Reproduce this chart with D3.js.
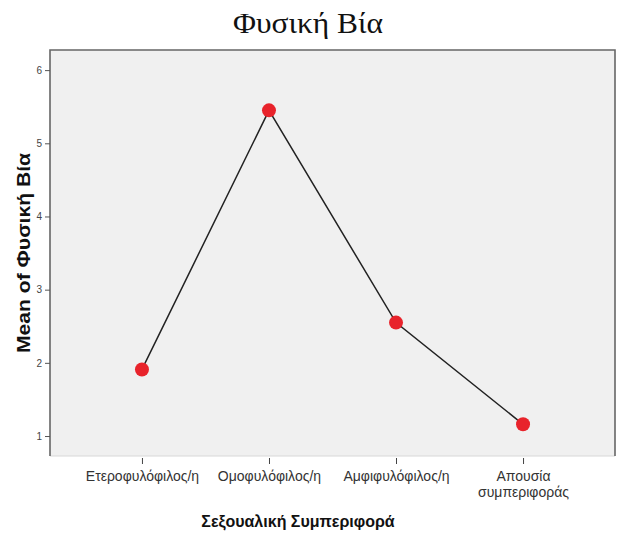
<!DOCTYPE html>
<html>
<head>
<meta charset="utf-8">
<script src="https://cdn.jsdelivr.net/npm/d3@7"></script>
<style>
  body { margin: 0; background: #fff; }
  svg text { font-family: "Liberation Sans", Arial, sans-serif; }
</style>
</head>
<body>
<svg id="chart" width="625" height="533"></svg>
<script>
/* Means plot — Φυσική Βία by sexual behaviour */

const categories = ["Ετεροφυλόφιλος/η", "Ομοφυλόφιλος/η", "Αμφιφυλόφιλος/η", "Απουσία συμπεριφοράς"];
const catLines = [["Ετεροφυλόφιλος/η"], ["Ομοφυλόφιλος/η"], ["Αμφιφυλόφιλος/η"], ["Απουσία", "συμπεριφοράς"]];
const means = [1.91, 5.45, 2.55, 1.16];
const yTicks = [1, 2, 3, 4, 5, 6];

const W = 625, H = 533;
const m = { top: 50, right: 10, bottom: 77, left: 50 };
const iw = W - m.left - m.right, ih = H - m.top - m.bottom;

const svg = d3.select("#chart");

const x = d3.scalePoint().domain(categories).range([0, iw]).padding(0.724);
const y = d3.scaleLinear().domain([0.727, 6.275]).range([ih, 0]);

const g = svg.append("g").attr("transform", `translate(${m.left},${m.top})`);

// plot background
g.append("rect").attr("width", iw).attr("height", ih).attr("fill", "#f0f0f0");
// frame (bottom edge lighter, like the original)
g.append("line").attr("x1", 0).attr("x2", iw).attr("y1", ih).attr("y2", ih)
  .attr("stroke", "#d8d8d8").attr("stroke-width", 1);
g.append("path")
  .attr("d", `M0,${ih}V0H${iw}V${ih}`)
  .attr("fill", "none").attr("stroke", "#666").attr("stroke-width", 1.6);

// y axis
const yAxis = g.append("g")
  .call(d3.axisLeft(y).tickValues(yTicks).tickFormat(d3.format("d")).tickSize(5).tickPadding(3));
yAxis.select(".domain").remove();
yAxis.selectAll(".tick line").attr("stroke", "#555");
yAxis.selectAll(".tick text").attr("font-size", 10).attr("fill", "#444");

// x axis
const xAxis = g.append("g").attr("transform", `translate(0,${ih})`)
  .call(d3.axisBottom(x).tickSize(8).tickFormat(""));
xAxis.select(".domain").remove();
xAxis.selectAll(".tick line").attr("stroke", "#444").attr("y1", 2);
xAxis.selectAll(".tick").each(function (d, i) {
  const t = d3.select(this).append("text")
    .attr("text-anchor", "middle").attr("fill", "#333").attr("font-size", 14)
    .attr("y", 25);
  catLines[i].forEach((s, j) => t.append("tspan").attr("x", 0).attr("dy", j ? 16 : 0).text(s));
});

// line + markers
const pts = categories.map((c, i) => ({ c, v: means[i] }));
g.append("path").datum(pts)
  .attr("fill", "none").attr("stroke", "#222").attr("stroke-width", 1.5)
  .attr("d", d3.line().x(d => x(d.c)).y(d => y(d.v)));
g.selectAll("circle.pt").data(pts).join("circle")
  .attr("class", "pt")
  .attr("cx", d => x(d.c)).attr("cy", d => y(d.v)).attr("r", 7)
  .attr("fill", "#e8232b");

// titles
svg.append("text").attr("x", 308).attr("y", 33).attr("text-anchor", "middle")
  .style("font-family", "'Liberation Serif', 'Times New Roman', serif")
  .attr("font-size", 29).attr("fill", "#111")
  .attr("textLength", 150).attr("lengthAdjust", "spacingAndGlyphs")
  .text("Φυσική Βία");

svg.append("text").attr("transform", "translate(30,253) rotate(-90)")
  .attr("text-anchor", "middle").attr("font-size", 19).attr("font-weight", "bold")
  .attr("fill", "#111")
  .attr("textLength", 200).attr("lengthAdjust", "spacingAndGlyphs")
  .text("Mean of Φυσική Βία");

svg.append("text").attr("x", 298).attr("y", 527).attr("text-anchor", "middle")
  .attr("font-size", 16).attr("font-weight", "bold").attr("fill", "#111")
  .text("Σεξουαλική Συμπεριφορά");
</script>
</body>
</html>
